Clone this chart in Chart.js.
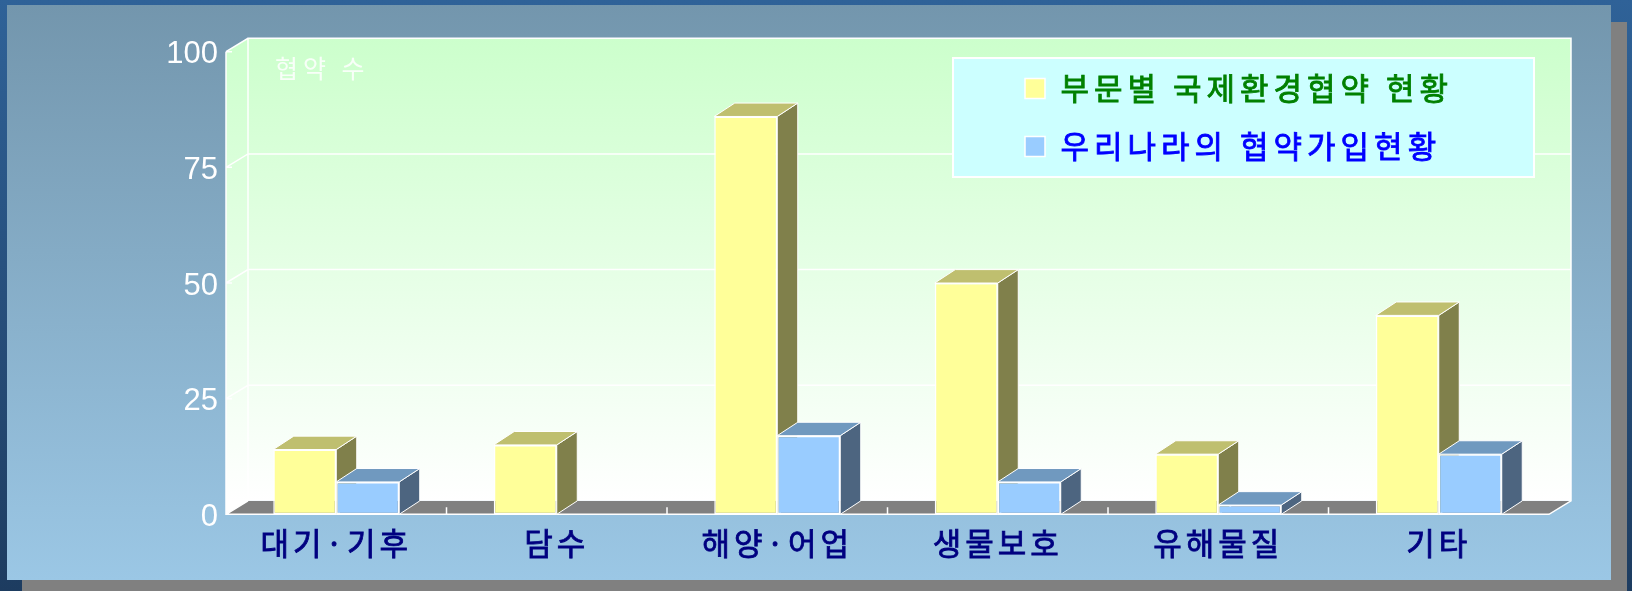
<!DOCTYPE html>
<html><head><meta charset="utf-8">
<script src="https://cdn.jsdelivr.net/npm/chart.js@4"></script>
<style>
html,body{margin:0;padding:0;width:1632px;height:591px;overflow:hidden;}
#bg{position:absolute;left:0;top:0;width:1632px;height:591px;background:linear-gradient(to bottom,#2F6298,#1D3C60);}
#shadow{position:absolute;left:22px;top:22px;width:1605px;height:569px;background:#808080;}
#panel{position:absolute;left:7px;top:5px;width:1604px;height:575px;background:linear-gradient(to bottom,#7396AD,#9BC7E5);}
canvas{position:absolute;left:0;top:0;}
</style></head>
<body>
<div id="bg"></div><div id="shadow"></div><div id="panel"></div>
<canvas id="c" width="1632" height="591"></canvas>
<script>
const categories = ['대기·기후', '담수', '해양·어업', '생물보호', '유해물질', '기타'];
const seriesNames = ['부문별 국제환경협약 현황', '우리나라의 협약가입현황'];
const totalTreaties = [14, 15, 86, 50, 13, 43];
const koreaJoined = [7, 0, 17, 7, 2, 13];
const yTicks = [0, 25, 50, 75, 100];
const yAxisLabel = '협약 수';

const WALL = {dx: 22, dy: -13.4};
const BAR = {dx: 20.5, dy: -13.4};
const faces = [{top: '#BFBF6F', side: '#80804B'}, {top: '#7099BF', side: '#4D6580'}];
const labelColors = ['#008000', '#0000FF'];

Chart.defaults.font.family = '"Noto Sans CJK KR", "Liberation Sans", sans-serif';

function boundary(xs, i) {
  return (xs.getPixelForTick(i - 1) + xs.getPixelForTick(i)) / 2;
}

function withSpacing(obj, method, spacing, stroke) {
  if (!obj || obj['_sp_' + method]) return;
  const orig = obj[method];
  obj[method] = function (...args) {
    const c = this.ctx;
    c.save();
    c.letterSpacing = spacing;
    if (stroke) {
      c.fillText = function (t, x, y, w) {
        CanvasRenderingContext2D.prototype.fillText.call(this, t, x, y);
        const lw = this.lineWidth, ss = this.strokeStyle;
        this.lineWidth = stroke;
        this.strokeStyle = this.fillStyle;
        CanvasRenderingContext2D.prototype.strokeText.call(this, t, x, y);
        this.lineWidth = lw;
        this.strokeStyle = ss;
      };
    }
    const r = orig.apply(this, args);
    if (stroke) delete c.fillText;
    c.restore();
    return r;
  };
  obj['_sp_' + method] = true;
}

const plot3d = {
  id: 'plot3d',
  afterLayout(chart) {
    const lg = chart.legend;
    if (lg) {
      lg.left = 998; lg.top = 46; lg.right = 1534; lg.bottom = 430;
      lg.width = lg.right - lg.left; lg.height = lg.bottom - lg.top;
      withSpacing(lg, 'draw', '5px', 0.8);
    }
    withSpacing(chart.scales.x, 'drawLabels', '4px', 0.8);
  },
  beforeDraw(chart) {
    const c = chart.ctx;
    const {left, right, top, bottom} = chart.chartArea;
    const ys = chart.scales.y, xs = chart.scales.x;
    const {dx, dy} = WALL;
    c.save();
    const g = c.createLinearGradient(0, top + dy, 0, bottom + dy);
    g.addColorStop(0, '#CCFFCC');
    g.addColorStop(1, '#FFFFFF');
    c.fillStyle = g;
    c.fillRect(left + dx, top + dy, right - left, bottom - top);
    c.beginPath();
    c.moveTo(left, top); c.lineTo(left + dx, top + dy); c.lineTo(left + dx, bottom + dy); c.lineTo(left, bottom);
    c.closePath(); c.fill();
    c.fillStyle = '#808080';
    c.beginPath();
    c.moveTo(left, bottom); c.lineTo(right, bottom); c.lineTo(right + dx, bottom + dy); c.lineTo(left + dx, bottom + dy);
    c.closePath(); c.fill();

    c.strokeStyle = '#FFFFFF';
    c.lineWidth = 1.5;
    c.beginPath();
    ys.ticks.forEach(t => {
      const py = ys.getPixelForValue(t.value);
      c.moveTo(left, py); c.lineTo(left + 6, py);
      c.moveTo(left, py); c.lineTo(left + dx, py + dy);
      if (t.value !== 0) c.lineTo(right + dx, py + dy);
    });
    c.moveTo(left, top); c.lineTo(left, bottom); c.lineTo(right, bottom);
    c.lineTo(right + dx, bottom + dy); c.lineTo(right + dx, top + dy);
    c.lineTo(left + dx, top + dy); c.lineTo(left + dx, bottom + dy);
    for (let i = 1; i < xs.ticks.length; i++) {
      const bx = boundary(xs, i);
      c.moveTo(bx, bottom); c.lineTo(bx, bottom - 7);
    }
    c.stroke();

    c.fillStyle = 'rgba(255,255,255,0.85)';
    c.font = '25px "Noto Sans CJK KR"';
    c.letterSpacing = '5px';
    c.textBaseline = 'middle';
    c.textAlign = 'left';
    c.fillText(yAxisLabel, left + 49, top + 16.6);
    c.letterSpacing = '0px';

    c.fillStyle = '#CCFFFF';
    c.fillRect(953, 58, 581, 119);
    c.strokeStyle = '#FFFFFF';
    c.lineWidth = 2;
    c.strokeRect(953, 58, 581, 119);
    c.restore();
  },
  beforeDatasetsDraw(chart) {
    const c = chart.ctx;
    const {dx, dy} = BAR;
    c.save();
    c.strokeStyle = '#FFFFFF';
    c.lineWidth = 1;
    c.lineJoin = 'round';
    chart.data.datasets.forEach((ds, di) => {
      const meta = chart.getDatasetMeta(di);
      meta.data.forEach((bar, i) => {
        if (!ds.data[i]) return;
        const {x, y, base, width} = bar.getProps(['x', 'y', 'base', 'width'], true);
        const l = x - width / 2, r = x + width / 2;
        c.fillStyle = faces[di].side;
        c.beginPath();
        c.moveTo(r, y); c.lineTo(r + dx, y + dy); c.lineTo(r + dx, base + dy); c.lineTo(r, base);
        c.closePath(); c.fill(); c.stroke();
        c.fillStyle = faces[di].top;
        c.beginPath();
        c.moveTo(l, y); c.lineTo(l + dx, y + dy); c.lineTo(r + dx, y + dy); c.lineTo(r, y);
        c.closePath(); c.fill(); c.stroke();
      });
    });
    c.restore();
  }
};

new Chart(document.getElementById('c'), {
  type: 'bar',
  data: {
    labels: categories,
    datasets: [
      {label: seriesNames[0], data: totalTreaties, backgroundColor: '#FFFF99', borderColor: '#FFFFFF', borderWidth: 1.5, borderSkipped: false},
      {label: seriesNames[1], data: koreaJoined, backgroundColor: '#99CCFF', borderColor: '#FFFFFF', borderWidth: 1.5, borderSkipped: false}
    ]
  },
  options: {
    responsive: false,
    animation: false,
    devicePixelRatio: 1,
    layout: {padding: {left: 0, right: 83, top: 51.7, bottom: 0}},
    datasets: {bar: {categoryPercentage: 0.5714, barPercentage: 1}},
    scales: {
      x: {
        grid: {display: false, drawTicks: false}, border: {display: false},
        ticks: {color: '#000080', font: {size: 31}, padding: 10, maxRotation: 0, autoSkip: false},
        afterFit(s) { s.height = 76.7; }
      },
      y: {
        min: 0, max: 100,
        grid: {display: false, drawTicks: false}, border: {display: false},
        afterBuildTicks(s) { s.ticks = yTicks.map(v => ({value: v})); },
        ticks: {color: '#FFFFFF', font: {size: 31, family: '"Liberation Sans", Arial, sans-serif'}, padding: 8, labelOffset: 3},
        afterFit(s) { s.width = 226; }
      }
    },
    plugins: {
      tooltip: {enabled: false},
      legend: {
        position: 'chartArea',
        align: 'start',
        labels: {
          boxWidth: 20, boxHeight: 20, padding: 27,
          font: {size: 31},
          generateLabels(chart) {
            return chart.data.datasets.map((ds, i) => ({
              text: ds.label,
              fillStyle: ds.backgroundColor,
              strokeStyle: '#FFFFFF',
              lineWidth: 1.5,
              fontColor: labelColors[i],
              hidden: false,
              datasetIndex: i
            }));
          }
        }
      }
    }
  },
  plugins: [plot3d]
});
</script>
</body></html>
